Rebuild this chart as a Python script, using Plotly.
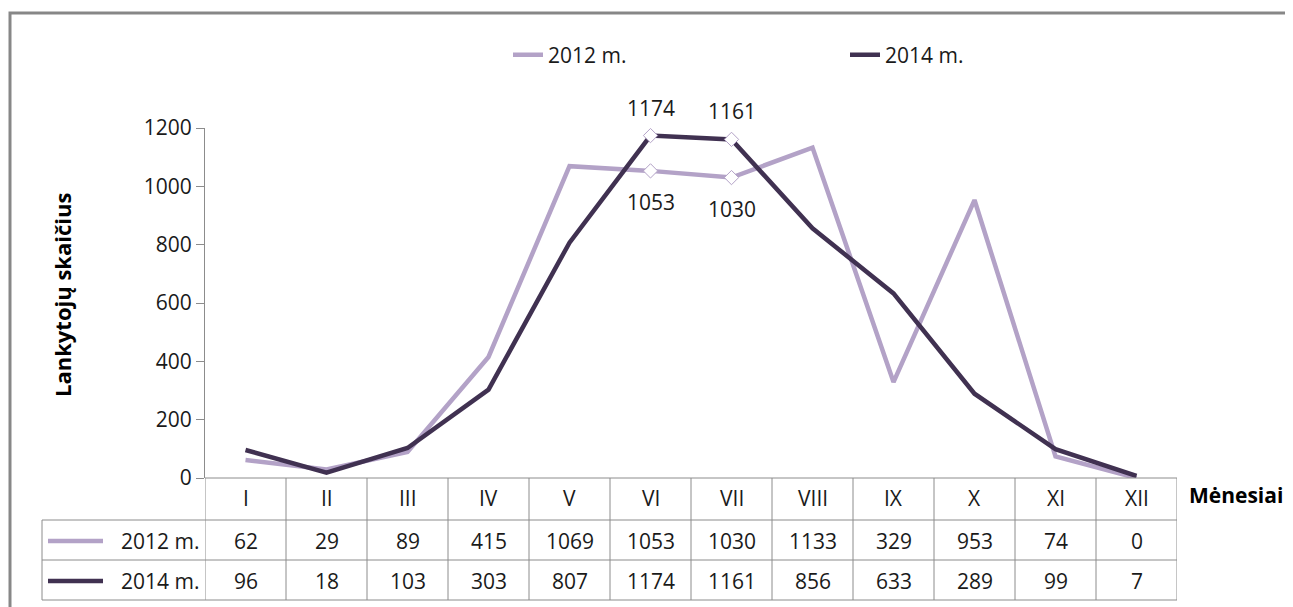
import plotly.graph_objects as go

months = ["I", "II", "III", "IV", "V", "VI", "VII", "VIII", "IX", "X", "XI", "XII"]
visitors_2012 = [62, 29, 89, 415, 1069, 1053, 1030, 1133, 329, 953, 74, 0]
visitors_2014 = [96, 18, 103, 303, 807, 1174, 1161, 856, 633, 289, 99, 7]
series_names = ["2012 m.", "2014 m."]
labelled_idx = [5, 6]  # VI, VII get markers and value labels

C2012 = "#B3A2C7"
C2014 = "#403151"
GRID = "#8C8C8C"
TXT = "#1a1a1a"
FONT = "Open Sans"
FS = 21

OFF = 8  # page body margin
W, H = 1293 - OFF, 607 - OFF
L, T = 205 - OFF, 128 - OFF
R, B = W - (1177 - OFF), H - (478 - OFF)
plot_w = W - L - R
plot_h = H - T - B


def px(x):
    # screen x pixel -> paper coordinate
    return (x - OFF - L) / plot_w


def py(y):
    # screen y pixel -> paper coordinate
    return (H - B - (y - OFF)) / plot_h


fig = go.Figure()

for name, vals, col in [(series_names[0], visitors_2012, C2012), (series_names[1], visitors_2014, C2014)]:
    fig.add_trace(go.Scatter(x=months, y=vals, mode="lines", name=name,
                             line=dict(color=col, width=4.5)))

annotations = []
for vals, shift in [(visitors_2012, -31), (visitors_2014, 28)]:
    fig.add_trace(go.Scatter(
        x=[months[i] for i in labelled_idx], y=[vals[i] for i in labelled_idx],
        mode="markers", showlegend=False, cliponaxis=False,
        marker=dict(symbol="diamond", size=11, color="white", line=dict(color=C2012, width=1)),
    ))
    for i in labelled_idx:
        annotations.append(dict(text=str(vals[i]), xref="x", yref="y", x=months[i], y=vals[i],
                                yshift=shift, xanchor="center", yanchor="middle", showarrow=False,
                                font=dict(family=FONT, size=FS, color=TXT)))

shapes = []
# chart border
shapes.append(dict(type="rect", xref="paper", yref="paper", x0=px(10), x1=px(1310), y0=py(620), y1=py(13),
                   line=dict(color="#878787", width=3)))

# data table grid
row_lines = [478, 520, 560, 600]
for i, yy in enumerate(row_lines):
    x0 = 205 if i == 0 else 42
    shapes.append(dict(type="line", xref="paper", yref="paper", x0=px(x0), x1=1, y0=py(yy), y1=py(yy),
                       line=dict(color=GRID, width=1)))
for k in range(len(months) + 1):
    shapes.append(dict(type="line", xref="x", yref="paper", x0=k - 0.5, x1=k - 0.5, y0=py(478), y1=py(600),
                       line=dict(color=GRID, width=1)))
shapes.append(dict(type="line", xref="paper", yref="paper", x0=px(42), x1=px(42), y0=py(520), y1=py(600),
                   line=dict(color=GRID, width=1)))

row_y = [541, 581]
for name, vals, col, yy in [(series_names[0], visitors_2012, C2012, row_y[0]),
                            (series_names[1], visitors_2014, C2014, row_y[1])]:
    shapes.append(dict(type="line", xref="paper", yref="paper", x0=px(48), x1=px(103), y0=py(yy), y1=py(yy),
                       line=dict(color=col, width=4.5)))
    annotations.append(dict(text=name, xref="paper", yref="paper", x=px(201), y=py(yy),
                            xanchor="right", yanchor="middle", showarrow=False,
                            font=dict(family=FONT, size=FS, color=TXT)))
    for m, v in zip(months, vals):
        annotations.append(dict(text=str(v), xref="x", yref="paper", x=m, y=py(yy),
                                xanchor="center", yanchor="middle", showarrow=False,
                                font=dict(family=FONT, size=FS, color=TXT)))
for m in months:
    annotations.append(dict(text=m, xref="x", yref="paper", x=m, y=py(498),
                            xanchor="center", yanchor="middle", showarrow=False,
                            font=dict(family=FONT, size=FS, color=TXT)))

annotations.append(dict(text="<b>Mėnesiai</b>", xref="paper", yref="paper", x=px(1187), y=py(495),
                        xanchor="left", yanchor="middle", showarrow=False,
                        font=dict(family=FONT, size=FS, color="#000")))
annotations.append(dict(text="<b>Lankytojų skaičius</b>", xref="paper", yref="paper", x=px(62), y=py(295),
                        xanchor="center", yanchor="middle", textangle=-90, showarrow=False,
                        font=dict(family=FONT, size=22, color="#000")))

fig.update_layout(
    width=W, height=H,
    margin=dict(l=L, r=R, t=T, b=B),
    paper_bgcolor="white", plot_bgcolor="white",
    font=dict(family=FONT, size=FS, color=TXT),
    showlegend=True,
    legend=dict(orientation="h", x=px(508), y=py(55), xanchor="left", yanchor="middle",
                entrywidth=292, entrywidthmode="pixels", font=dict(family=FONT, size=FS),
                bgcolor="rgba(0,0,0,0)"),
    xaxis=dict(type="category", range=[-0.5, len(months) - 0.5], showticklabels=False,
               showline=False, showgrid=False, zeroline=False, ticks=""),
    yaxis=dict(range=[0, 1200], dtick=200, showgrid=False, zeroline=False,
               showline=True, linecolor=GRID, linewidth=1, ticks="outside", ticklen=8,
               tickcolor=GRID, tickfont=dict(family=FONT, size=FS, color=TXT)),
    shapes=shapes,
    annotations=annotations,
)

fig.write_html("out.html")
